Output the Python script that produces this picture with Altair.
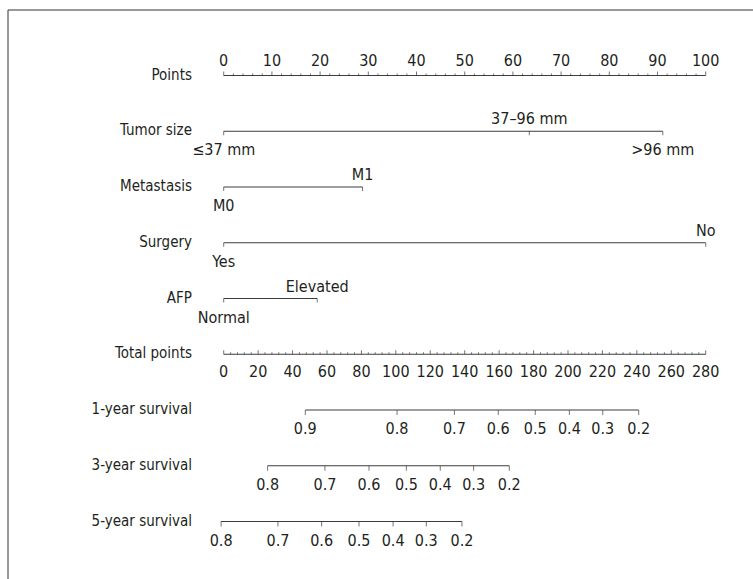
import altair as alt
import pandas as pd

# ---- nomogram content ----
row_names = ["Points", "Tumor size", "Metastasis", "Surgery", "AFP",
             "Total points", "1-year survival", "3-year survival", "5-year survival"]

# Points scale (0-100)
points_major = list(range(0, 101, 10))
points_minor = [v for v in range(0, 101, 2) if v % 10 != 0]

# Predictor levels and their points
tumor_levels = ["≤37 mm", "37–96 mm", ">96 mm"]
tumor_points = [0, 63.4, 91.1]
tumor_side = ["below", "above", "below"]

meta_levels = ["M0", "M1"]
meta_points = [0, 28.8]
meta_side = ["below", "above"]

surgery_levels = ["Yes", "No"]
surgery_points = [0, 100]
surgery_side = ["below", "above"]

afp_levels = ["Normal", "Elevated"]
afp_points = [0, 19.4]
afp_side = ["below", "above"]

# Total points scale (0-280)
total_major = list(range(0, 281, 20))
total_minor = [v for v in range(0, 281, 4) if v % 20 != 0]

# Survival probabilities and their total points
surv1_labels = ["0.9", "0.8", "0.7", "0.6", "0.5", "0.4", "0.3", "0.2"]
surv1_total = [47.4, 100.7, 134.0, 159.5, 181.0, 200.8, 220.2, 241.1]
surv3_labels = ["0.8", "0.7", "0.6", "0.5", "0.4", "0.3", "0.2"]
surv3_total = [25.5, 58.8, 84.4, 106.1, 125.8, 145.2, 165.9]
surv5_labels = ["0.8", "0.7", "0.6", "0.5", "0.4", "0.3", "0.2"]
surv5_total = [-1.5, 31.5, 56.9, 78.6, 98.4, 117.7, 138.4]

# ---- tables ----
predictors = [
    (1, tumor_levels, tumor_points, tumor_side),
    (2, meta_levels, meta_points, meta_side),
    (3, surgery_levels, surgery_points, surgery_side),
    (4, afp_levels, afp_points, afp_side),
]
pred_levels = pd.DataFrame(
    [dict(row=r, label=l, pts=p, side=s)
     for r, levs, pts, sides in predictors
     for l, p, s in zip(levs, pts, sides)]
)
pred_lines = pd.DataFrame(
    [dict(row=0, start=min(points_major), end=max(points_major))] +
    [dict(row=r, start=min(pts), end=max(pts)) for r, _, pts, _ in predictors]
)
points_major_df = pd.DataFrame({"row": 0, "pts": points_major,
                                "label": [str(v) for v in points_major]})
points_minor_df = pd.DataFrame({"row": 0, "pts": points_minor})

survs = [(6, surv1_labels, surv1_total), (7, surv3_labels, surv3_total),
         (8, surv5_labels, surv5_total)]
surv_df = pd.DataFrame(
    [dict(row=r, label=l, tp=t) for r, labs, tps in survs for l, t in zip(labs, tps)]
)
total_lines = pd.DataFrame(
    [dict(row=5, start=min(total_major), end=max(total_major))] +
    [dict(row=r, start=min(tps), end=max(tps)) for r, _, tps in survs]
)
total_major_df = pd.DataFrame({"row": 5, "tp": total_major,
                               "label": [str(v) for v in total_major]})
total_minor_df = pd.DataFrame({"row": 5, "tp": total_minor})

names_df = pd.DataFrame({"row": list(range(len(row_names))), "name": row_names})

# ---- styling ----
FONT = "DejaVu Sans Condensed, Liberation Sans Narrow, sans-serif"
TXT = "#231f20"
LINE = "#3c3c3c"
NUM_SIZE = 16
NAME_SIZE = 15

P = alt.Scale(domain=[0, 100], range=[223.7, 705.7])
T = alt.Scale(domain=[0, 280], range=[223.7, 705.7])
Y = alt.Scale(domain=[0, 8], range=[75.5, 521.5])
y_row = alt.Y("row:Q", scale=Y, axis=None)

frame = alt.Chart(pd.DataFrame({"k": [0]})).mark_rect(
    fill=None, stroke="#333333", strokeWidth=1
).encode(x=alt.value(8), x2=alt.value(900), y=alt.value(10), y2=alt.value(900))

names = alt.Chart(names_df).mark_text(
    align="right", baseline="middle", font=FONT, fontSize=NAME_SIZE, color=TXT, dy=-1
).encode(x=alt.value(192), y=y_row, text="name:N")

# points-scale layers
p_lines = alt.Chart(pred_lines).mark_rule(color=LINE, strokeWidth=1).encode(
    x=alt.X("start:Q", scale=P, axis=None), x2="end:Q", y=y_row)
p_major = alt.Chart(points_major_df).mark_tick(
    orient="vertical", size=4, thickness=1, yOffset=-2, color=LINE
).encode(x=alt.X("pts:Q", scale=P, axis=None), y=y_row)
p_minor = alt.Chart(points_minor_df).mark_tick(
    orient="vertical", size=2, thickness=1, yOffset=-1, color=LINE
).encode(x=alt.X("pts:Q", scale=P, axis=None), y=y_row)
p_labels = alt.Chart(points_major_df).mark_text(
    baseline="alphabetic", font=FONT, fontSize=NUM_SIZE, color=TXT, dy=-10
).encode(x=alt.X("pts:Q", scale=P, axis=None), y=y_row, text="label:N")

lev_ticks = alt.Chart(pred_levels).mark_tick(
    orient="vertical", size=4, thickness=1, yOffset=2, color=LINE
).encode(x=alt.X("pts:Q", scale=P, axis=None), y=y_row)
lev_above = alt.Chart(pred_levels).transform_filter(alt.datum.side == "above").mark_text(
    baseline="alphabetic", font=FONT, fontSize=NUM_SIZE, color=TXT, dy=-7
).encode(x=alt.X("pts:Q", scale=P, axis=None), y=y_row, text="label:N")
lev_below = alt.Chart(pred_levels).transform_filter(alt.datum.side == "below").mark_text(
    baseline="alphabetic", font=FONT, fontSize=NUM_SIZE, color=TXT, dy=24
).encode(x=alt.X("pts:Q", scale=P, axis=None), y=y_row, text="label:N")

# total-points-scale layers
t_lines = alt.Chart(total_lines).mark_rule(color=LINE, strokeWidth=1).encode(
    x=alt.X("start:Q", scale=T, axis=None), x2="end:Q", y=y_row)
t_major = alt.Chart(total_major_df).mark_tick(
    orient="vertical", size=4, thickness=1, yOffset=-2, color=LINE
).encode(x=alt.X("tp:Q", scale=T, axis=None), y=y_row)
t_minor = alt.Chart(total_minor_df).mark_tick(
    orient="vertical", size=2, thickness=1, yOffset=-1, color=LINE
).encode(x=alt.X("tp:Q", scale=T, axis=None), y=y_row)
t_labels = alt.Chart(total_major_df).mark_text(
    baseline="alphabetic", font=FONT, fontSize=NUM_SIZE, color=TXT, dy=23
).encode(x=alt.X("tp:Q", scale=T, axis=None), y=y_row, text="label:N")

s_ticks = alt.Chart(surv_df).mark_tick(
    orient="vertical", size=5, thickness=1, yOffset=2.5, color=LINE
).encode(x=alt.X("tp:Q", scale=T, axis=None), y=y_row)
s_labels = alt.Chart(surv_df).mark_text(
    baseline="alphabetic", font=FONT, fontSize=NUM_SIZE, color=TXT, dy=24
).encode(x=alt.X("tp:Q", scale=T, axis=None), y=y_row, text="label:N")

chart = alt.layer(
    frame, names,
    p_lines, p_major, p_minor, p_labels, lev_ticks, lev_above, lev_below,
    t_lines, t_major, t_minor, t_labels, s_ticks, s_labels,
).resolve_scale(x="independent").properties(
    width=753, height=579, autosize="none", padding=0, background="white"
).configure_view(stroke=None)

chart.save("out.html", embed_options={"renderer": "svg", "actions": False})
